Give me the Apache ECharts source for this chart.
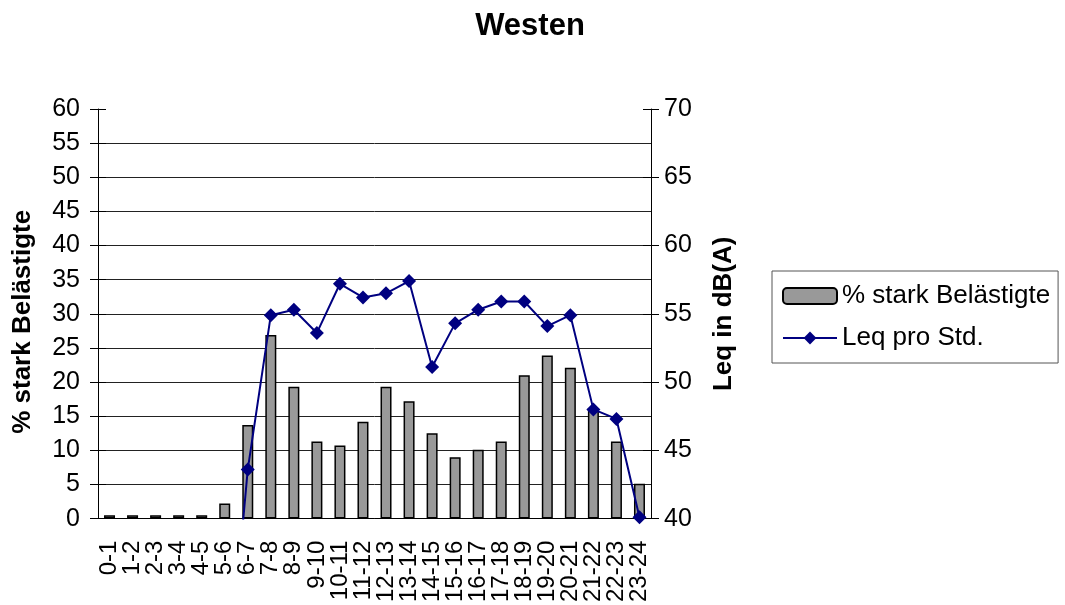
<!DOCTYPE html>
<html>
<head>
<meta charset="utf-8">
<script src="https://cdn.jsdelivr.net/npm/echarts@6/dist/echarts.min.js"></script>
<style>
  html, body { margin: 0; padding: 0; background: #fff; }
  #chart { width: 1065px; height: 605px; }
</style>
</head>
<body>
<div id="chart"></div>
<script>
// Stunden des Tages
const hours = ['0-1','1-2','2-3','3-4','4-5','5-6','6-7','7-8','8-9','9-10','10-11','11-12',
               '12-13','13-14','14-15','15-16','16-17','17-18','18-19','19-20','20-21','21-22','22-23','23-24'];

// Anteil stark Belästigter in %
const starkBelaestigte = [0.5, 0.5, 0.5, 0.5, 0.5, 2.2, 13.7, 26.9, 19.3, 11.3, 10.7, 14.2,
                          19.3, 17.2, 12.5, 9.0, 10.1, 11.3, 21.0, 23.9, 22.1, 16.2, 11.3, 5.1];

// Mittelungspegel je Stunde in dB(A)
const leqProStd = [null, null, null, null, null, 25.0, 43.6, 54.9, 55.3, 53.6, 57.2, 56.2,
                   56.5, 57.4, 51.1, 54.3, 55.3, 55.9, 55.9, 54.1, 54.9, 48.0, 47.3, 40.1];

// Achsenbereiche
const leftAxis = { min: 0, max: 60, interval: 5 };
const rightAxis = { min: 40, max: 70, interval: 5 };

const FONT = "'Liberation Sans', Arial, sans-serif";
const chart = echarts.init(document.getElementById('chart'), null, { renderer: 'canvas' });

const tickLine = { color: '#000', width: 1 };

chart.setOption({
  animation: false,
  backgroundColor: '#fff',
  textStyle: { fontFamily: FONT, color: '#000' },
  title: {
    text: 'Westen',
    left: 525,
    textAlign: 'center',
    top: 6,
    textStyle: { fontFamily: FONT, fontSize: 31, fontWeight: 'bold', color: '#000' }
  },
  legend: {
    orient: 'vertical',
    left: 772,
    top: 271,
    width: 286,
    padding: [12, 8, 12, 10],
    itemGap: 16,
    itemWidth: 54,
    itemHeight: 16,
    borderColor: '#555',
    borderWidth: 1,
    backgroundColor: '#fff',
    textStyle: { fontFamily: FONT, fontSize: 26, color: '#000', padding: [0, 0, 0, 0] },
    data: [
      { name: '% stark Belästigte' },
      { name: 'Leq pro Std.' }
    ]
  },
  grid: { left: 98, right: 414, top: 109, bottom: 86, containLabel: false },
  xAxis: {
    type: 'category',
    data: hours,
    boundaryGap: true,
    axisLine: { lineStyle: { color: '#000', width: 1 } },
    axisTick: { show: false },
    axisLabel: {
      interval: 0,
      rotate: 90,
      margin: 22,
      fontFamily: FONT,
      fontSize: 24,
      color: '#000'
    }
  },
  yAxis: [
    {
      type: 'value',
      position: 'left',
      min: leftAxis.min, max: leftAxis.max, interval: leftAxis.interval,
      name: '% stark Belästigte',
      nameLocation: 'middle',
      nameRotate: 90,
      nameGap: 62,
      nameTextStyle: { fontFamily: FONT, fontSize: 26, fontWeight: 'bold', color: '#000', padding: [0, 16, 0, 0] },
      axisLine: { show: true, lineStyle: { color: '#000', width: 1 } },
      axisTick: { show: true, inside: false, length: 8, lineStyle: tickLine },
      axisLabel: { fontFamily: FONT, fontSize: 25, color: '#000', margin: 18 },
      splitLine: { show: true, showMaxLine: false, lineStyle: { color: '#222', width: 1 } }
    },
    {
      type: 'value',
      position: 'right',
      min: rightAxis.min, max: rightAxis.max, interval: rightAxis.interval,
      name: 'Leq in dB(A)',
      nameLocation: 'middle',
      nameRotate: 90,
      nameGap: 60,
      nameTextStyle: { fontFamily: FONT, fontSize: 26, fontWeight: 'bold', color: '#000' },
      axisLine: { show: true, lineStyle: { color: '#000', width: 1 } },
      axisTick: { show: true, inside: false, length: 8, lineStyle: tickLine },
      axisLabel: { fontFamily: FONT, fontSize: 25, color: '#000', margin: 13 },
      splitLine: { show: false }
    },
    {
      // inner half of the crossing tick marks, left side
      type: 'value',
      position: 'left',
      min: leftAxis.min, max: leftAxis.max, interval: leftAxis.interval,
      axisLine: { show: false },
      axisTick: { show: true, inside: true, length: 8, lineStyle: tickLine },
      axisLabel: { show: false },
      splitLine: { show: false }
    },
    {
      // inner half of the crossing tick marks, right side
      type: 'value',
      position: 'right',
      min: rightAxis.min, max: rightAxis.max, interval: rightAxis.interval,
      axisLine: { show: false },
      axisTick: { show: true, inside: true, length: 8, lineStyle: tickLine },
      axisLabel: { show: false },
      splitLine: { show: false }
    }
  ],
  series: [
    {
      name: '% stark Belästigte',
      type: 'bar',
      yAxisIndex: 0,
      data: starkBelaestigte,
      barWidth: 11,
      itemStyle: { color: '#999999', borderColor: '#000', borderWidth: 1.5 },
      z: 2
    },
    {
      name: 'Leq pro Std.',
      type: 'line',
      yAxisIndex: 1,
      data: leqProStd,
      clip: true,
      symbol: 'diamond',
      symbolSize: 14,
      showAllSymbol: true,
      lineStyle: { color: '#000080', width: 2 },
      itemStyle: { color: '#000080' },
      z: 3
    }
  ]
});
</script>
</body>
</html>
